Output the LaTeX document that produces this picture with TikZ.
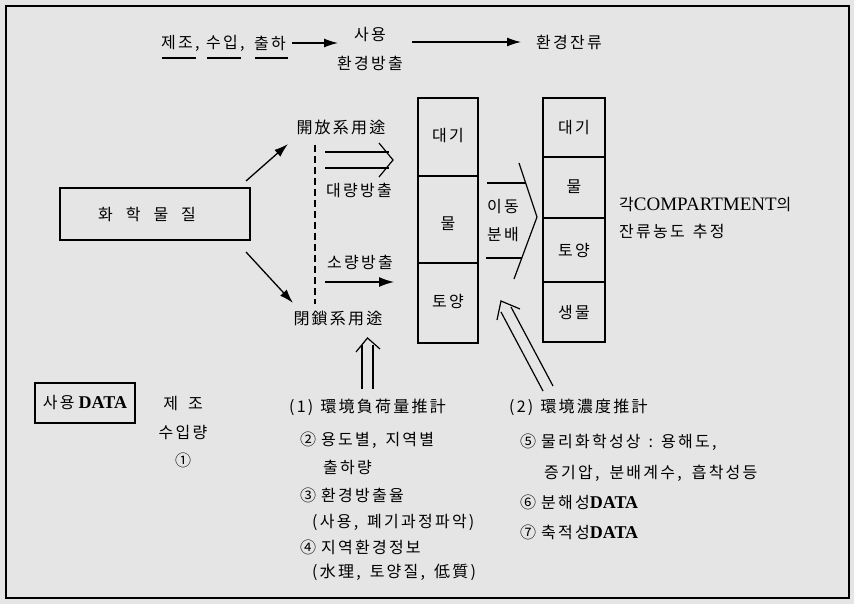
\documentclass[tikz,border=0pt]{standalone}
\usepackage{fontspec}
\usetikzlibrary{arrows.meta}
\newfontfamily\kr[LetterSpace=14]{Noto Sans CJK KR}
\newfontfamily\latf{Liberation Serif}
\definecolor{bgc}{gray}{0.9}
\tikzset{
  txt/.style={inner sep=0pt, font=\kr\fontsize{16}{19}\selectfont},
  ln/.style={line width=1.3pt},
  arr/.style={line width=1.3pt, -{Latex[length=14pt,width=9pt]}},
  boxl/.style={draw, line width=1.5pt},
}
\newcommand\latbig[1]{{\latf\fontsize{19}{21}\selectfont #1}}
\newcommand\latbold[1]{{\latf\bfseries\fontsize{18}{20}\selectfont #1}}
\begin{document}
\begin{tikzpicture}[x=1pt,y=-1pt]
\useasboundingbox (0,0) rectangle (854,604);
\fill[bgc] (0,0) rectangle (854,604);
\draw[line width=2.4pt] (6,6) rectangle (849,598);

% top row
\node[txt, anchor=west] (m1) at (161,43) {제조,};
\node[txt, anchor=west] (m2) at (206,43) {수입,};
\node[txt, anchor=west] (m3) at (254,43) {출하};
\draw[ln] (162,58) -- (196,58);
\draw[ln] (207,58) -- (241,58);
\draw[ln] (255,58) -- (288,58);
\node[txt] (use1) at (370,35) {사용};
\node[txt] (use2) at (370,63) {환경방출};
\node[txt] (env) at (569,42) {환경잔류};
\draw[arr] (m3.east)+(6,0) -- (338,43);
\draw[arr] (412,42) -- (521,42);

% chemical box
\node[boxl, minimum width=190pt, minimum height=52pt] (chem) at (155,214) {};
\node[txt] (chemt) at (147,214) {화\hspace{13pt}학\hspace{13pt}물\hspace{13pt}질};
\coordinate (ca) at (246,181);
\coordinate (cb) at (246,252);
\node[txt] (open) at (341,127) {開放系用途};
\node[txt] (closed) at (338,318) {閉鎖系用途};
\draw[arr] (ca) -- (288,144);
\draw[arr] (cb) -- (293,303);
\draw[ln, dash pattern=on 7pt off 4pt] (315,145) -- (315,304);

% large release (open double arrow)
\draw[line width=1.2pt] (325,152) -- (389,152);
\draw[line width=1.2pt] (325,168) -- (389,168);
\draw[line width=1.2pt] (379,143) -- (393,160) -- (379,177);
\node[txt] (big) at (359,190) {대량방출};
\node[txt] (small) at (360,262) {소량방출};
\draw[line width=1.3pt, -{Latex[length=15pt,width=10pt]}] (325,282) -- (394,282);

% left compartments
\draw[boxl] (418,98) rectangle (478,343);
\draw[ln] (418,176) -- (478,176);
\draw[ln] (418,263) -- (478,263);
\node[txt] (la) at (448,136) {대기};
\node[txt] (lw) at (448,224) {물};
\node[txt] (ls) at (448,301) {토양};

% right compartments
\draw[boxl] (543,98) rectangle (605,342);
\draw[ln] (543,157) -- (605,157);
\draw[ln] (543,218) -- (605,218);
\draw[ln] (543,282) -- (605,282);
\node[txt] (ra) at (574,128) {대기};
\node[txt] (rw) at (574,187) {물};
\node[txt] (rs) at (574,250) {토양};
\node[txt] (rb) at (574,312) {생물};

% transfer chevron
\node[txt] (mv1) at (503,207) {이동};
\node[txt] (mv2) at (503,235) {분배};
\draw[line width=1.2pt] (487,183) -- (526,183);
\draw[line width=1.2pt] (486,258) -- (522,258);
\draw[line width=1.2pt] (519,163) -- (537,217) -- (514,279);

% result text
\node[txt, anchor=west] (res1) at (619,205) {각\latbig{COMPARTMENT}의};
\node[txt, anchor=west] (res2) at (619,232) {잔류농도\hspace{8pt}추정};

% up double arrow (load)
\draw[line width=1.2pt] (362,389) -- (362,345);
\draw[line width=1.2pt] (373,389) -- (373,345);
\draw[line width=1.2pt] (356,352) -- (367.5,338) -- (380,349);

% diagonal double arrow (concentration)
\draw[line width=1.2pt] (543,391) -- (501,312);
\draw[line width=1.2pt] (553,386) -- (511,307);
\draw[line width=1.2pt] (497,320) -- (501,301) -- (520,309);

% usage data
\node[boxl, minimum width=100pt, minimum height=40pt, inner sep=1pt] (data) at (85,403) {\kr\fontsize{16}{19}\selectfont 사용\hspace{4pt}\latbold{DATA}};
\node[txt] (mf1) at (183,404) {제\hspace{10pt}조};
\node[txt] (mf2) at (183,433) {수입량};
\node[txt] (mf3) at (183,460) {①};

% bottom lists
\node[txt, anchor=west] (l1) at (289,407) {(1)\hspace{7pt}環境負荷量推計};
\node[txt, anchor=west] (l2) at (300,440) {②\hspace{5pt}용도별,\hspace{9pt}지역별};
\node[txt, anchor=west] (l3) at (323,467) {출하량};
\node[txt, anchor=west] (l4) at (300,495) {③\hspace{5pt}환경방출율};
\node[txt, anchor=west] (l5) at (312,522) {(사용,\hspace{9pt}폐기과정파악)};
\node[txt, anchor=west] (l6) at (300,547) {④\hspace{5pt}지역환경정보};
\node[txt, anchor=west] (l7) at (312,572) {(水理,\hspace{9pt}토양질,\hspace{9pt}低質)};

\node[txt, anchor=west] (r1) at (509,407) {(2)\hspace{7pt}環境濃度推計};
\node[txt, anchor=west] (r2) at (520,442) {⑤\hspace{5pt}물리화학성상\hspace{8pt}:\hspace{8pt}용해도,};
\node[txt, anchor=west] (r3) at (544,473) {증기압,\hspace{10pt}분배계수,\hspace{10pt}흡착성등};
\node[txt, anchor=west] (r4) at (520,502) {⑥\hspace{5pt}분해성\latbold{DATA}};
\node[txt, anchor=west] (r5) at (520,532) {⑦\hspace{5pt}축적성\latbold{DATA}};
\end{tikzpicture}
\end{document}
